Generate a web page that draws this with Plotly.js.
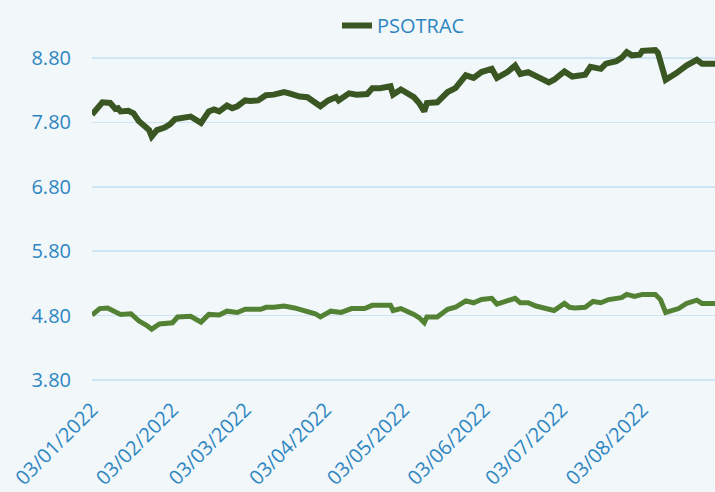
<!DOCTYPE html>
<html>
<head>
<meta charset="utf-8">
<script src="https://cdn.plot.ly/plotly-3.0.1.min.js"></script>
<style>html,body{margin:0;padding:0;background:#f2f7fa;}#chart{width:715px;height:492px;}</style>
</head>
<body>
<div id="chart"></div>
<script>
// PSOTRAC (upper series)
var datesTop = ["2022-01-03","2022-01-05","2022-01-07","2022-01-10","2022-01-12","2022-01-13","2022-01-14","2022-01-17","2022-01-19","2022-01-21","2022-01-23","2022-01-25","2022-01-26","2022-01-28","2022-01-31","2022-02-02","2022-02-04","2022-02-07","2022-02-10","2022-02-12","2022-02-14","2022-02-17","2022-02-19","2022-02-21","2022-02-24","2022-02-26","2022-02-28","2022-03-03","2022-03-05","2022-03-08","2022-03-11","2022-03-14","2022-03-18","2022-03-20","2022-03-24","2022-03-27","2022-03-29","2022-04-01","2022-04-04","2022-04-07","2022-04-08","2022-04-12","2022-04-15","2022-04-19","2022-04-21","2022-04-24","2022-04-28","2022-04-29","2022-05-02","2022-05-05","2022-05-07","2022-05-09","2022-05-11","2022-05-12","2022-05-16","2022-05-20","2022-05-23","2022-05-27","2022-05-30","2022-06-02","2022-06-06","2022-06-08","2022-06-12","2022-06-15","2022-06-17","2022-06-20","2022-06-23","2022-06-26","2022-06-28","2022-06-30","2022-07-04","2022-07-07","2022-07-10","2022-07-12","2022-07-14","2022-07-18","2022-07-20","2022-07-24","2022-07-26","2022-07-28","2022-07-30","2022-08-02","2022-08-03","2022-08-08","2022-08-09","2022-08-12","2022-08-16","2022-08-20","2022-08-24","2022-08-26","2022-08-31"];
var valuesTop = [7.92,8.02,8.11,8.10,8.01,8.02,7.97,7.98,7.94,7.82,7.74,7.68,7.58,7.68,7.72,7.77,7.85,7.88,7.89,7.84,7.79,7.97,8.00,7.97,8.06,8.02,8.05,8.14,8.13,8.14,8.22,8.23,8.27,8.25,8.20,8.19,8.13,8.05,8.14,8.19,8.14,8.25,8.23,8.24,8.33,8.33,8.36,8.23,8.31,8.23,8.19,8.10,7.97,8.10,8.11,8.27,8.33,8.53,8.49,8.58,8.63,8.49,8.58,8.68,8.55,8.58,8.51,8.45,8.42,8.46,8.59,8.51,8.53,8.54,8.66,8.63,8.71,8.75,8.80,8.89,8.84,8.85,8.91,8.92,8.88,8.46,8.56,8.68,8.77,8.71,8.71];

// Lower series (no legend entry)
var datesBottom = ["2022-01-03","2022-01-06","2022-01-09","2022-01-12","2022-01-14","2022-01-18","2022-01-21","2022-01-24","2022-01-26","2022-01-29","2022-02-03","2022-02-05","2022-02-10","2022-02-14","2022-02-17","2022-02-21","2022-02-24","2022-02-28","2022-03-03","2022-03-09","2022-03-11","2022-03-14","2022-03-18","2022-03-22","2022-03-26","2022-03-30","2022-04-01","2022-04-05","2022-04-09","2022-04-13","2022-04-18","2022-04-21","2022-04-28","2022-04-29","2022-05-02","2022-05-05","2022-05-07","2022-05-09","2022-05-11","2022-05-12","2022-05-16","2022-05-20","2022-05-23","2022-05-27","2022-05-30","2022-06-02","2022-06-06","2022-06-08","2022-06-12","2022-06-15","2022-06-17","2022-06-20","2022-06-23","2022-06-26","2022-06-28","2022-06-30","2022-07-04","2022-07-06","2022-07-08","2022-07-12","2022-07-15","2022-07-18","2022-07-21","2022-07-26","2022-07-28","2022-07-31","2022-08-03","2022-08-08","2022-08-10","2022-08-12","2022-08-17","2022-08-20","2022-08-24","2022-08-26","2022-08-31"];
var valuesBottom = [4.81,4.91,4.92,4.85,4.82,4.83,4.72,4.65,4.59,4.67,4.69,4.78,4.79,4.70,4.82,4.81,4.87,4.85,4.90,4.90,4.93,4.93,4.95,4.92,4.87,4.83,4.78,4.87,4.85,4.91,4.91,4.96,4.96,4.88,4.91,4.86,4.82,4.77,4.69,4.78,4.78,4.90,4.93,5.03,5.00,5.05,5.07,4.98,5.02,5.07,5.00,5.00,4.95,4.92,4.91,4.88,4.99,4.93,4.92,4.93,5.02,5.00,5.05,5.08,5.13,5.10,5.13,5.13,5.05,4.85,4.91,4.99,5.04,4.99,4.99];

var tickDates = ["2022-01-03","2022-02-03","2022-03-03","2022-04-03","2022-05-03","2022-06-03","2022-07-03","2022-08-03"];
var tickLabels = ["03/01/2022","03/02/2022","03/03/2022","03/04/2022","03/05/2022","03/06/2022","03/07/2022","03/08/2022"];
var yTicks = [3.8,4.8,5.8,6.8,7.8,8.8];
var yTickLabels = ["3.80","4.80","5.80","6.80","7.80","8.80"];

var tickColor = "#2E86C1";
var fontFam = "Open Sans, Noto Sans, sans-serif";

var traces = [
  {x: datesTop, y: valuesTop, type: "scatter", mode: "lines", name: "PSOTRAC",
   line: {color: "#3A5723", width: 6, shape: "linear"}, showlegend: true},
  {x: datesBottom, y: valuesBottom, type: "scatter", mode: "lines", name: "",
   line: {color: "#548235", width: 5, shape: "linear"}, showlegend: false}
];

var layout = {
  width: 715, height: 492,
  paper_bgcolor: "#f2f7fa", plot_bgcolor: "#f2f7fa",
  margin: {l: 92, r: 0, t: 45, b: 99, pad: 0},
  font: {family: fontFam, color: tickColor, size: 20},
  showlegend: true,
  legend: {orientation: "h", x: 0.5, xanchor: "center", y: 1.0, yanchor: "bottom",
           font: {family: fontFam, size: 20, color: tickColor}, bgcolor: "rgba(0,0,0,0)"},
  xaxis: {
    type: "date", range: ["2022-01-03", "2022-08-31"],
    tickmode: "array", tickvals: tickDates, ticktext: tickLabels,
    tickangle: -45, showgrid: false, zeroline: false, showline: false, ticks: "",
    tickfont: {family: fontFam, size: 20, color: tickColor}
  },
  yaxis: {
    range: [3.6, 9.0], tickmode: "array", tickvals: yTicks, ticktext: yTickLabels,
    showgrid: true, gridcolor: "#cfe5f3", gridwidth: 1.5, zeroline: false, showline: false,
    ticks: "", ticklabelstandoff: 20,
    tickfont: {family: fontFam, size: 20, color: tickColor}
  }
};

Plotly.newPlot("chart", traces, layout, {displayModeBar: false, staticPlot: true});
</script>
</body>
</html>
